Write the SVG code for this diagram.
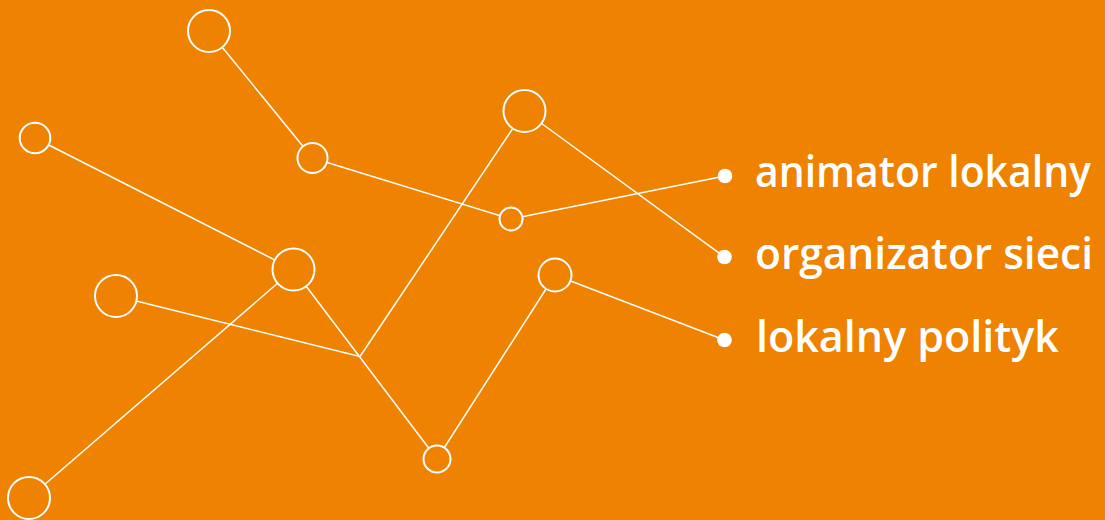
<svg xmlns="http://www.w3.org/2000/svg" width="1105" height="520" viewBox="0 0 1105 520">
<style>
.bg{fill:#EF8200}
.edge{stroke:#fff;stroke-width:1.5;fill:none}
.node{fill:#EF8200;stroke:#fff;stroke-width:2}
.dot{fill:#fff}
.label{fill:#fff;font-family:"Open Sans","Noto Sans",sans-serif;font-size:44px;font-weight:600}
</style>
<rect class="bg" x="0" y="0" width="1105" height="520"/>
<g id="connectors">
<line class="edge" x1="209" y1="31" x2="312.5" y2="158"/>
<line class="edge" x1="35" y1="138" x2="293.5" y2="269.5"/>
<line class="edge" x1="312.5" y1="158" x2="511" y2="219"/>
<line class="edge" x1="511" y1="219" x2="725" y2="176"/>
<line class="edge" x1="524.5" y1="111" x2="724.5" y2="257"/>
<line class="edge" x1="524.5" y1="111" x2="360" y2="356.5"/>
<line class="edge" x1="116" y1="296" x2="360" y2="356.5"/>
<line class="edge" x1="293.5" y1="269.5" x2="437" y2="459"/>
<line class="edge" x1="293.5" y1="269.5" x2="29" y2="498"/>
<line class="edge" x1="437" y1="459" x2="555" y2="275"/>
<line class="edge" x1="555" y1="275" x2="724.5" y2="340"/>
</g>
<g id="n1"><circle class="node" cx="209" cy="31" r="21"/></g>
<g id="n2"><circle class="node" cx="312.5" cy="158" r="15"/></g>
<g id="n3"><circle class="node" cx="35" cy="138" r="15.3"/></g>
<g id="n4"><circle class="node" cx="293.5" cy="269.5" r="21"/></g>
<g id="n5"><circle class="node" cx="116" cy="296" r="21"/></g>
<g id="n6"><circle class="node" cx="29" cy="498" r="21"/></g>
<g id="n7"><circle class="node" cx="524.5" cy="111" r="21"/></g>
<g id="n8"><circle class="node" cx="511" cy="219" r="11.5"/></g>
<g id="n9"><circle class="node" cx="555" cy="275" r="16.5"/></g>
<g id="n10"><circle class="node" cx="437" cy="459" r="13.5"/></g>
<g id="item1"><circle class="dot" cx="725" cy="176" r="7.3"/><text class="label" x="755" y="187" textLength="336" lengthAdjust="spacingAndGlyphs">animator lokalny</text></g>
<g id="item2"><circle class="dot" cx="724.5" cy="257" r="7.3"/><text class="label" x="755" y="268.5" textLength="338" lengthAdjust="spacingAndGlyphs">organizator sieci</text></g>
<g id="item3"><circle class="dot" cx="724.5" cy="340" r="7.3"/><text class="label" x="756" y="352" textLength="303" lengthAdjust="spacingAndGlyphs">lokalny polityk</text></g>
</svg>
